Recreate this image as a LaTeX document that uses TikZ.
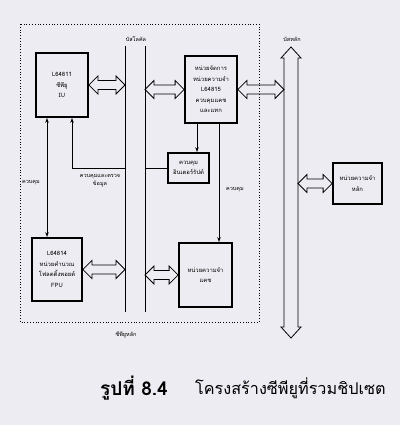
\documentclass[tikz,border=0pt]{standalone}
\usepackage{fontspec}
\newfontfamily\thaifont[Script=Thai]{Loma}
\usetikzlibrary{calc,arrows.meta}

\definecolor{paper}{RGB}{236,236,242}

\tikzset{
	unit/.style={draw, line width=1.8pt, inner sep=0pt, align=center, font=\thaifont\fontsize{5.9}{10.5}\selectfont},
	note/.style={inner sep=0pt, align=center, font=\thaifont\fontsize{5.5}{8}\selectfont},
	ctl/.style={line width=1pt, >={Stealth[length=5pt,width=3.5pt]}},
	% hollow double arrow, left to right
	hollow/.style={draw, line width=0.8pt, to path={
		let \p1=(\tikztostart), \p2=(\tikztotarget) in
		(\x1,\y1) -- (\x1+9pt,\y1+9pt) -- (\x1+9pt,\y1+4.5pt) -- (\x2-9pt,\y1+4.5pt)
		-- (\x2-9pt,\y1+9pt) -- (\x2,\y1) -- (\x2-9pt,\y1-9pt) -- (\x2-9pt,\y1-4.5pt)
		-- (\x1+9pt,\y1-4.5pt) -- (\x1+9pt,\y1-9pt) -- cycle}},
	% hollow double arrow, top to bottom
	hollowv/.style={draw, line width=0.8pt, to path={
		let \p1=(\tikztostart), \p2=(\tikztotarget) in
		(\x1,\y1) -- (\x1+10pt,\y1-11pt) -- (\x1+7pt,\y1-11pt) -- (\x1+7pt,\y2+11pt)
		-- (\x1+10pt,\y2+11pt) -- (\x1,\y2) -- (\x1-10pt,\y2+11pt) -- (\x1-7pt,\y2+11pt)
		-- (\x1-7pt,\y1-11pt) -- (\x1-10pt,\y1-11pt) -- cycle}},
}

\begin{document}
\begin{tikzpicture}[x=1pt, y=-1pt]
	\fill[paper] (0,0) rectangle (400,425);
	\useasboundingbox (0,0) rectangle (400,425);

	% main CPU area
	\draw[dotted, line width=0.8pt] (20,24) rectangle (259,322);
	\node[note] (cpulbl) at (126,335) {ซีพียูหลัก};

	% local bus
	\node[note] (lbus) at (136,39) {บัสโลคัล};
	\coordinate (lbL1) at (125,46);
	\coordinate (lbL2) at (125,312);
	\coordinate (lbR1) at (145,46);
	\coordinate (lbR2) at (145,312);
	\draw[line width=0.8pt] (lbL1) -- (lbL2);
	\draw[line width=0.8pt] (lbR1) -- (lbR2);

	% system bus
	\node[note] (sbus) at (292,39) {บัสหลัก};
	\coordinate (sbT) at (291,47);
	\coordinate (sbB) at (291,338);
	\coordinate (sbL) at (284,47);
	\coordinate (sbR) at (298,47);
	\draw[hollowv] (sbT) to (sbB);

	\node[unit, minimum width=52pt, minimum height=64pt] (iu) at (62,85) {L64811\\ซีพียู\\IU};
	\node[unit, minimum width=52pt, minimum height=67pt] (mmu) at (211,89.5) {หน่วยจัดการ\\หน่วยความจำ\\L64815\\ควบคุมแคช\\และแทก};
	\node[unit, minimum width=41pt, minimum height=30pt] (intc) at (188.5,168) {ควบคุม\\อินเตอร์รัปต์};
	\node[unit, minimum width=50pt, minimum height=63pt] (fpu) at (57,269.5) {L64814\\หน่วยคำนวณ\\โฟลตติ้งพอยต์\\FPU};
	\node[unit, minimum width=53pt, minimum height=64pt] (cache) at (205.5,275) {หน่วยความจำ\\แคช};
	\node[unit, minimum width=49pt, minimum height=41pt] (mem) at (357.5,183.5) {หน่วยความจำ\\หลัก};

	% Draw the bus connections
	\draw[hollow] (iu.east) to (iu.east -| lbL1);
	\draw[hollow] (mmu.west -| lbR1) to (mmu.west);
	\draw[hollow] (mmu.east) to (mmu.east -| sbL);
	\draw[hollow] (fpu.east) to (fpu.east -| lbL1);
	\draw[hollow] (cache.west -| lbR1) to (cache.west);
	\draw[hollow] (mem.west -| sbR) to (mem.west);

	% Draw the control lines
	\draw[ctl, <->] ([xshift=-15pt]iu.south) -- ([xshift=-15pt]iu.south |- fpu.north);
	\node[note] (ctl1) at (31,183) {ควบคุม};
	\draw[ctl, <-] ([xshift=10pt]iu.south) |- (lbL1 |- intc.west);
	\node[note] (ctl2) at (100,181) {ควบคุมและตรวจ\\ข้อมูล};
	\draw[ctl] (intc.west) -- (intc.west -| lbR1);
	\draw[ctl, ->] ([xshift=-14pt]mmu.south) -- ([xshift=-14pt]mmu.south |- intc.north);
	\draw[ctl, ->] ([xshift=8pt]mmu.south) -- ([xshift=8pt]mmu.south |- cache.north);
	\node[note] (ctl3) at (235,190) {ควบคุม};

	% caption
	\node[anchor=west, inner sep=0pt, font=\thaifont\fontsize{19}{22}\selectfont\bfseries] (capnum) at (100,388) {รูปที่ 8.4};
	\node[anchor=west, inner sep=0pt, font=\thaifont\fontsize{16.2}{20}\selectfont] (captext) at (195,388) {โครงสร้างซีพียูที่รวมชิปเซต};
\end{tikzpicture}
\end{document}
